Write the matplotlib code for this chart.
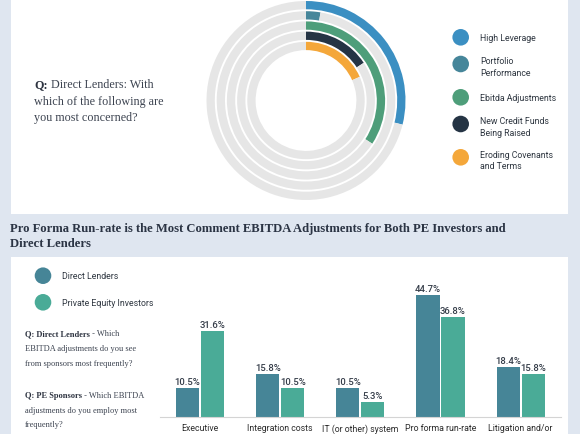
import matplotlib
matplotlib.use('Agg')
import numpy as np
import matplotlib.pyplot as plt
from matplotlib.patches import Rectangle, Circle

# donut data (share of direct lenders, %)
concerns = ['High Leverage', 'Portfolio\nPerformance', 'Ebitda Adjustments',
            'New Credit Funds\nBeing Raised', 'Eroding Covenants\nand Terms']
concern_pct = [28.9, 2.6, 34.2, 15.8, 18.4]
concern_colors = ['#3b8fc2', '#46869a', '#4e9e7a', '#253444', '#f4a73a']

# bar data (%)
adjustments = ['Executive', 'Integration costs', 'IT (or other) system',
               'Pro forma run-rate', 'Litigation and/or']
lenders = [10.5, 15.8, 10.5, 44.7, 18.4]
pe_investors = [31.6, 10.5, 5.3, 36.8, 15.8]
bar_colors = ['#468597', '#4aab97']
series_names = ['Direct Lenders', 'Private Equity Investors']

W, H = 580, 435
BG = '#dfe6f0'
TRACK = '#e6e6e6'
TXT = '#3c4350'

def fx(px):
    return px / W

def fy(py):
    return 1 - py / H

fig = plt.figure(figsize=(5.8, 4.35), dpi=100, facecolor=BG)

# white panels
fig.add_artist(Rectangle((fx(11), fy(215)), fx(568) - fx(11), 215 / H,
                         transform=fig.transFigure, facecolor='white', edgecolor='none', zorder=0))
fig.add_artist(Rectangle((fx(11), 0), fx(568) - fx(11), (H - 258) / H,
                         transform=fig.transFigure, facecolor='white', edgecolor='none', zorder=0))

renderer = fig.canvas.get_renderer()

def mixed_line(x, y, bold, rest, size, family):
    t = fig.text(fx(x), fy(y), bold, fontsize=size, family=family, fontweight='bold',
                 color='#2d3340', va='center', ha='left')
    bb = t.get_window_extent(renderer=renderer)
    fig.text(fx(x) + bb.width / (W), fy(y), rest, fontsize=size, family=family,
             color=TXT, va='center', ha='left')

serif = ['Liberation Serif', 'DejaVu Serif']
sans = ['Roboto', 'DejaVu Sans']

# ---- top question
mixed_line(34, 85, 'Q:', ' Direct Lenders: With', 8.7, serif)
fig.text(fx(34), fy(101.7), 'which of the following are', fontsize=8.7, family=serif,
         color=TXT, va='center')
fig.text(fx(34), fy(118.3), 'you most concerned?', fontsize=8.7, family=serif,
         color=TXT, va='center')

# ---- radial donut
cx, cy, half = 306, 101.5, 110
ax = fig.add_axes([fx(cx - half), fy(cy + half), 2 * half / W, 2 * half / H])
ring_w = 0.083
for i, (v, c) in enumerate(zip(concern_pct, concern_colors)):
    r = 0.995 - i * 0.102
    ax.pie([v, 100 - v], radius=r, colors=[c, TRACK], startangle=90, counterclock=False,
           wedgeprops=dict(width=ring_w, edgecolor='none'))
ax.set_xlim(-1.1, 1.1)
ax.set_ylim(-1.1, 1.1)
ax.set_aspect('equal')
ax.axis('off')

# donut legend
leg_y = [38.3, 65, 98.3, 125, 158.3]
for name, c, y in zip(concerns, concern_colors, leg_y):
    fig.add_artist(Circle((460.7, H - y), 8.3, transform=None, facecolor=c, edgecolor='none'))
    nl = name.count('\n')
    fig.text(fx(480), fy(y + 2.5 * nl), name, fontsize=6.3, family=sans, color='#2e3640',
             va='center', ha='left', linespacing=1.3)

# ---- section title
fig.text(fx(9.5), fy(229), 'Pro Forma Run-rate is the Most Comment EBITDA Adjustments for Both PE Investors and',
         fontsize=9.1, family=serif, fontweight='bold', color='#2b3444', va='center')
fig.text(fx(9.5), fy(244.5), 'Direct Lenders', fontsize=9.1, family=serif, fontweight='bold',
         color='#2b3444', va='center')

# bar legend
for name, c, y in zip(series_names, bar_colors, [276.7, 303.3]):
    fig.add_artist(Circle((43, H - y), 8.3, transform=None, facecolor=c, edgecolor='none'))
    fig.text(fx(61.7), fy(y), name, fontsize=6.3, family=sans, color='#2e3640', va='center')

# lower questions
qs = 6.0
mixed_line(25, 334, 'Q: Direct Lenders', ' - Which', qs, serif)
fig.text(fx(25), fy(349.3), 'EBITDA adjustments do you see', fontsize=qs, family=serif, color=TXT, va='center')
fig.text(fx(25), fy(364), 'from sponsors most frequently?', fontsize=qs, family=serif, color=TXT, va='center')
mixed_line(25, 396, 'Q: PE Sponsors', ' - Which EBITDA', qs, serif)
fig.text(fx(25), fy(410.7), 'adjustments do you employ most', fontsize=qs, family=serif, color=TXT, va='center')
fig.text(fx(25), fy(425), 'frequently?', fontsize=qs, family=serif, color=TXT, va='center')

# ---- grouped bars
base, ymax, scale = 417.7, 50, 2.715
bx = fig.add_axes([fx(160), fy(base), (560.7 - 160) / W, ymax * scale / H])
x = np.arange(len(adjustments))
bw, off = 0.2875, 0.156
b1 = bx.bar(x - off, lenders, bw, color=bar_colors[0])
b2 = bx.bar(x + off, pe_investors, bw, color=bar_colors[1])
for bars in (b1, b2):
    bx.bar_label(bars, labels=['%.1f%%' % b.get_height() for b in bars], padding=1.5,
                 fontsize=6.8, family=sans, fontweight='medium', color='#343c48')
bx.set_xlim(-0.5, len(adjustments) - 0.5)
bx.set_ylim(0, ymax)
bx.set_xticks(x)
bx.set_xticklabels(adjustments, fontsize=6.3, family=sans, color='#2b2b2b')
bx.tick_params(axis='x', length=0, pad=4.5)
bx.set_yticks([])
for s in ['top', 'right', 'left']:
    bx.spines[s].set_visible(False)
bx.spines['bottom'].set_color('#d4d4d4')
bx.set_facecolor('none')

fig.savefig('out.png', dpi=100, facecolor=BG)
